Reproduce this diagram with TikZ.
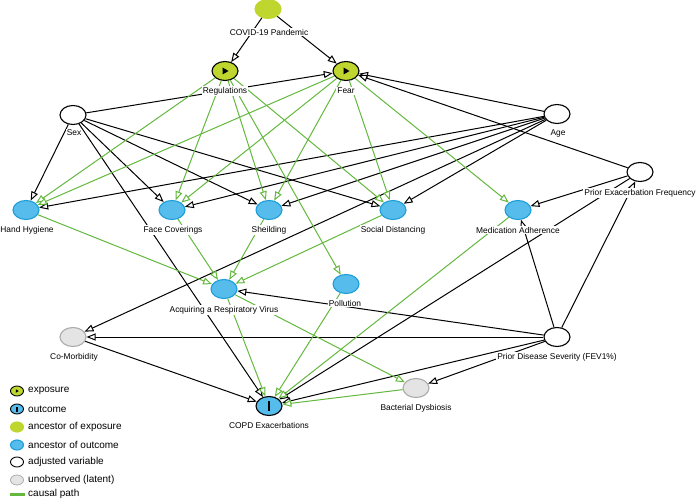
\documentclass[tikz,border=0pt]{standalone}
\usepackage{fontspec}
\setmainfont{Liberation Sans}
\usetikzlibrary{arrows.meta, shapes.geometric}
\definecolor{expocol}{HTML}{BFD62E}
\definecolor{anccol}{HTML}{55BCEB}
\definecolor{ancline}{HTML}{1E9ED8}
\definecolor{latcol}{HTML}{E4E4E4}
\definecolor{latline}{HTML}{ABABAB}
\definecolor{cpcol}{HTML}{63B83D}

\begin{document}
\begin{tikzpicture}[
  x=1pt, y=-1pt,
  var/.style={ellipse, minimum width=26pt, minimum height=19pt, inner sep=0pt, line width=1.1pt},
  adj/.style={var, draw=black, fill=white},
  expo/.style={var, draw=black, fill=expocol, path picture={\fill[black] (path picture bounding box.center) ++({-2.5pt*#1},{-3.5pt*#1}) -- ++({6pt*#1},{3.5pt*#1}) -- ++({-6pt*#1},{3.5pt*#1}) -- cycle;}},
  expo/.default=1,
  outc/.style={var, draw=black, fill=anccol, path picture={\fill[black] (path picture bounding box.center) ++({-1.3pt*#1},{-5pt*#1}) rectangle ++({2.6pt*#1},{10pt*#1});}},
  outc/.default=1,
  ancexp/.style={var, draw=expocol, fill=expocol},
  ancout/.style={var, draw=ancline, fill=anccol},
  lat/.style={var, draw=latline, fill=latcol},
  lbl/.style={fill=white, inner sep=1pt, font=\fontsize{8.4}{10}\selectfont},
  arr/.style={line width=1pt, -{Triangle[length=9pt, width=7pt, fill=white]}},
  cp/.style={arr, draw=cpcol},
  leg/.style={anchor=west, inner sep=0pt, font=\fontsize{10}{12}\selectfont}
]
  \useasboundingbox (0,0) rectangle (696,500);

  % variables
  \node[ancexp] (covid) at (268,9) {};
  \node[expo] (reg) at (225,71) {};
  \node[expo] (fear) at (346,71) {};
  \node[adj] (sex) at (73,115) {};
  \node[adj] (age) at (557,114) {};
  \node[adj] (pef) at (640,172) {};
  \node[ancout] (hh) at (26,210) {};
  \node[ancout] (fc) at (172,210) {};
  \node[ancout] (sh) at (269,210) {};
  \node[ancout] (sd) at (393,210) {};
  \node[ancout] (ma) at (518,210) {};
  \node[ancout] (poll) at (346,284) {};
  \node[ancout] (virus) at (224,289) {};
  \node[lat] (como) at (73,337) {};
  \node[adj] (pds) at (557,337) {};
  \node[lat] (bd) at (416,388) {};
  \node[outc] (copd) at (269,406) {};

  % adjusted / biasing paths
  \draw[arr] (covid) -- (reg);
  \draw[arr] (covid) -- (fear);
  \draw[arr] (sex) -- (fear);
  \draw[arr] (age) -- (fear);
  \draw[arr] (pef) -- (fear);
  \draw[arr] (sex) -- (hh);
  \draw[arr] (sex) -- (fc);
  \draw[arr] (sex) -- (sh);
  \draw[arr] (sex) -- (sd);
  \draw[arr] (sex) -- (copd);
  \draw[arr] (age) -- (hh);
  \draw[arr] (age) -- (fc);
  \draw[arr] (age) -- (sh);
  \draw[arr] (age) -- (sd);
  \draw[arr] (age) -- (como);
  \draw[arr] (pef) -- (ma);
  \draw[arr] (pef) -- (copd);
  \draw[arr] (pds) -- (pef);
  \draw[arr] (pds) -- (ma);
  \draw[arr] (pds) -- (copd);
  \draw[arr] (pds) -- (bd);
  \draw[arr] (pds) -- (como);
  \draw[arr] (pds) -- (virus);
  \draw[arr] (como) -- (copd);

  % causal paths
  \draw[cp] (reg) -- (hh);
  \draw[cp] (reg) -- (fc);
  \draw[cp] (reg) -- (sh);
  \draw[cp] (reg) -- (sd);
  \draw[cp] (reg) -- (poll);
  \draw[cp] (fear) -- (hh);
  \draw[cp] (fear) -- (fc);
  \draw[cp] (fear) -- (sh);
  \draw[cp] (fear) -- (sd);
  \draw[cp] (fear) -- (ma);
  \draw[cp] (hh) -- (virus);
  \draw[cp] (fc) -- (virus);
  \draw[cp] (sh) -- (virus);
  \draw[cp] (sd) -- (virus);
  \draw[cp] (virus) -- (copd);
  \draw[cp] (virus) -- (bd);
  \draw[cp] (bd) -- (copd);
  \draw[cp] (poll) -- (copd);
  \draw[cp] (ma) -- (copd);

  % labels
  \node[lbl] (covid-t) at (269,32) {COVID-19 Pandemic};
  \node[lbl] (reg-t) at (225,91) {Regulations};
  \node[lbl] (fear-t) at (346,91) {Fear};
  \node[lbl] (sex-t) at (74,133) {Sex};
  \node[lbl] (age-t) at (558,133) {Age};
  \node[lbl] (pef-t) at (640,193) {Prior Exacerbation Frequency};
  \node[lbl] (hh-t) at (27,230) {Hand Hygiene};
  \node[lbl] (fc-t) at (173,230) {Face Coverings};
  \node[lbl] (sh-t) at (269,230) {Sheilding};
  \node[lbl] (sd-t) at (393,230) {Social Distancing};
  \node[lbl] (ma-t) at (518,230) {Medication Adherence};
  \node[lbl] (poll-t) at (345,303) {Pollution};
  \node[lbl] (virus-t) at (224,310) {Acquiring a Respiratory Virus};
  \node[lbl] (como-t) at (74,357) {Co-Morbidity};
  \node[lbl] (pds-t) at (557,357) {Prior Disease Severity (FEV1\%)};
  \node[lbl] (bd-t) at (416,408) {Bacterial Dysbiosis};
  \node[lbl] (copd-t) at (269,425) {COPD Exacerbations};

  % legend
  \node[expo=0.5, minimum width=13pt, minimum height=10pt, line width=0.9pt] (lgexp) at (17,391) {};
  \node[leg] (lgexp-t) at (28,391) {exposure};
  \node[outc=0.5, minimum width=13pt, minimum height=10pt, line width=0.9pt] (lgout) at (17,409) {};
  \node[leg] (lgout-t) at (28,409) {outcome};
  \node[ancexp, minimum width=13pt, minimum height=10pt] (lgae) at (17,427) {};
  \node[leg] (lgae-t) at (28,427) {ancestor of exposure};
  \node[ancout, minimum width=13pt, minimum height=10pt] (lgao) at (17,445) {};
  \node[leg] (lgao-t) at (28,445) {ancestor of outcome};
  \node[adj, minimum width=13pt, minimum height=10pt, line width=0.9pt] (lgadj) at (17,462) {};
  \node[leg] (lgadj-t) at (28,462) {adjusted variable};
  \node[lat, minimum width=13pt, minimum height=10pt, line width=0.8pt] (lglat) at (17,480) {};
  \node[leg] (lglat-t) at (28,480) {unobserved (latent)};
  \coordinate (lgcp-a) at (10,494);
  \coordinate (lgcp-b) at (25,494);
  \draw[cpcol, line width=3pt] (lgcp-a) -- (lgcp-b);
  \node[leg] (lgcp-t) at (28,494) {causal path};
\end{tikzpicture}
\end{document}
